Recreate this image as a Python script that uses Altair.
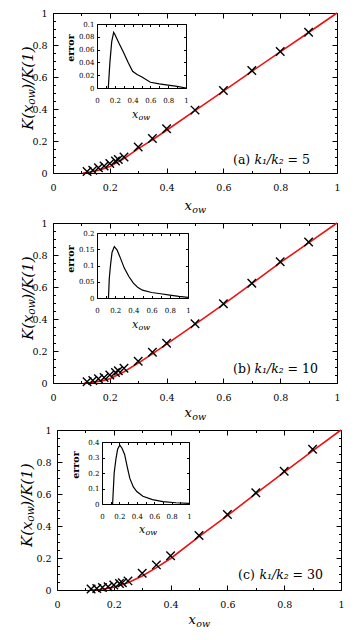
import altair as alt
import pandas as pd

FONT = "DejaVu Serif"

# ---------------- data ----------------
cross_x = [0.12, 0.14, 0.16, 0.18, 0.20, 0.22, 0.23, 0.25, 0.30, 0.35, 0.40, 0.50, 0.60, 0.70, 0.80, 0.90]
cross_a = [0.010, 0.017, 0.033, 0.044, 0.059, 0.075, 0.084, 0.100, 0.163, 0.215, 0.276, 0.393, 0.515, 0.640, 0.760, 0.879]
cross_b = [0.008, 0.015, 0.027, 0.035, 0.050, 0.065, 0.077, 0.092, 0.136, 0.192, 0.248, 0.370, 0.495, 0.624, 0.758, 0.881]
cross_c = [0.006, 0.010, 0.015, 0.021, 0.031, 0.040, 0.046, 0.057, 0.105, 0.157, 0.214, 0.340, 0.472, 0.608, 0.742, 0.880]

line_a_x = [0.105, 0.12, 0.135, 0.15, 0.175, 0.20, 0.25, 0.30, 0.35, 0.40, 0.50, 0.60, 0.70, 0.80, 0.90, 1.00]
line_a_y = [0.0, 0.003, 0.008, 0.013, 0.025, 0.040, 0.090, 0.152, 0.207, 0.267, 0.390, 0.512, 0.635, 0.757, 0.878, 1.000]
line_b_x = [0.11, 0.13, 0.15, 0.175, 0.20, 0.25, 0.30, 0.35, 0.40, 0.50, 0.60, 0.70, 0.80, 0.90, 1.00]
line_b_y = [0.0, 0.003, 0.007, 0.015, 0.027, 0.070, 0.124, 0.182, 0.243, 0.366, 0.492, 0.621, 0.752, 0.876, 1.000]
line_c_x = [0.12, 0.15, 0.175, 0.20, 0.25, 0.30, 0.35, 0.40, 0.50, 0.60, 0.70, 0.80, 0.90, 1.00]
line_c_y = [0.0, 0.003, 0.009, 0.018, 0.045, 0.088, 0.140, 0.197, 0.333, 0.465, 0.602, 0.737, 0.870, 1.000]

err_a_x = [0.127, 0.145, 0.165, 0.187, 0.20, 0.25, 0.30, 0.35, 0.40, 0.45, 0.50, 0.60, 0.70, 0.80, 0.90, 1.00]
err_a_y = [0.0, 0.040, 0.072, 0.087, 0.084, 0.069, 0.055, 0.040, 0.026, 0.021, 0.0175, 0.009, 0.0065, 0.0045, 0.0025, 0.0]
err_b_x = [0.126, 0.135, 0.148, 0.165, 0.19, 0.22, 0.25, 0.30, 0.35, 0.40, 0.45, 0.50, 0.60, 0.70, 0.80, 0.90, 1.00]
err_b_y = [0.0, 0.060, 0.100, 0.140, 0.158, 0.148, 0.128, 0.092, 0.066, 0.046, 0.032, 0.024, 0.017, 0.013, 0.009, 0.005, 0.002]
err_c_x = [0.122, 0.14, 0.16, 0.18, 0.205, 0.23, 0.26, 0.29, 0.32, 0.36, 0.40, 0.47, 0.58, 0.70, 0.85, 1.00]
err_c_y = [0.0, 0.20, 0.29, 0.355, 0.38, 0.36, 0.32, 0.24, 0.165, 0.11, 0.08, 0.05, 0.028, 0.015, 0.008, 0.004]

main_labels = [0, 0.2, 0.4, 0.6, 0.8, 1]
main_x_ticks = [0, 0.1, 0.2, 0.3, 0.4, 0.5, 0.6, 0.7, 0.8, 0.9, 1]
main_y_ticks = [0, 0.05, 0.1, 0.15, 0.2, 0.25, 0.3, 0.35, 0.4, 0.45, 0.5,
                0.55, 0.6, 0.65, 0.7, 0.75, 0.8, 0.85, 0.9, 0.95, 1]
inset_x_labels = [0, 0.2, 0.4, 0.6, 0.8, 1]
inset_x_ticks = [0, 0.1, 0.2, 0.3, 0.4, 0.5, 0.6, 0.7, 0.8, 0.9, 1]
inset_y_a = [0, 0.02, 0.04, 0.06, 0.08, 0.1]
inset_y_b = [0, 0.05, 0.1, 0.15, 0.2]
inset_y_c = [0, 0.1, 0.2, 0.3, 0.4]

# ---------------- geometry ----------------
H = 160
PW = 284
XPATH = "M-1,-1L1,1M-1,1L1,-1"
MAJOR_TEST = "abs(datum.value*5 - round(datum.value*5)) < 0.001"


def tick_axis(orient, offset, values, size):
    return alt.Axis(orient=orient, offset=offset, values=values, labels=False, title=None,
                    domain=True, domainColor="black", domainWidth=1, ticks=True,
                    tickColor="black", tickWidth=1, tickSize=size, grid=False,
                    minExtent=0)


def label_axis(orient, offset, values, fsize, pad):
    return alt.Axis(orient=orient, offset=offset, values=values, labels=True, ticks=False,
                    tickSize=0, domain=False, title=None, labelFont=FONT,
                    labelFontSize=fsize, labelPadding=pad, labelColor="black",
                    format="~g", grid=False, labelFlush=False, labelOverlap=False,
                    minExtent=0)


def txt(s, x, y, size, style="normal", weight="normal", angle=0, align="left"):
    return alt.Chart(pd.DataFrame({"t": [s]})).mark_text(
        text=s, font=FONT, fontSize=size, fontStyle=style, fontWeight=weight,
        angle=angle, align=align, baseline="middle", color="black"
    ).encode(x=alt.value(x), y=alt.value(y))


def panel(x0, lx, ly, cy, ex, ey, ymax, yvals, ins, tag, ratio, ann, ytc, xt, it_c, et):
    Wv = x0 + PW
    il, ir, itop, ib = ins
    sx = alt.Scale(domain=[0, 1], range=[x0, Wv], nice=False, zero=False)
    sy = alt.Scale(domain=[0, 1], range=[H, 0], nice=False, zero=False)
    isx = alt.Scale(domain=[0, 1], range=[il, ir], nice=False, zero=False)
    isy = alt.Scale(domain=[0, ymax], range=[ib, itop], nice=False, zero=False)

    big = {"condition": {"test": MAJOR_TEST, "value": 5}, "value": 2.5}

    line_df = pd.DataFrame({"x": lx, "y": ly})
    cross_df = pd.DataFrame({"x": cross_x, "y": cy})
    err_df = pd.DataFrame({"x": ex, "y": ey})

    l1 = alt.Chart(line_df).mark_line(color="#ee1111", strokeWidth=1.6).encode(
        x=alt.X("x:Q", scale=sx, axis=label_axis("bottom", 0, main_labels, 9.5, 9)),
        y=alt.Y("y:Q", scale=sy, axis=label_axis("left", -x0, main_labels, 9.5, 6)),
    )
    l2 = alt.Chart(cross_df).mark_point(shape=XPATH, size=72, filled=False, color="black",
                                        strokeWidth=1.4, opacity=1).encode(
        x=alt.X("x:Q", scale=sx, axis=tick_axis("top", -H, main_x_ticks, big)),
        y=alt.Y("y:Q", scale=sy, axis=tick_axis("right", -PW, main_y_ticks, big)),
    )
    l3 = alt.Chart(line_df).mark_line(opacity=0).encode(
        x=alt.X("x:Q", scale=sx, axis=tick_axis("bottom", -H, main_x_ticks, big)),
        y=alt.Y("y:Q", scale=sy, axis=tick_axis("left", -Wv, main_y_ticks, big)),
    )
    l4 = alt.Chart(err_df).mark_line(color="black", strokeWidth=1.2).encode(
        x=alt.X("x:Q", scale=isx, axis=label_axis("bottom", ib - H, inset_x_labels, 7, 8)),
        y=alt.Y("y:Q", scale=isy, axis=label_axis("left", -il, yvals, 7, 3)),
    )
    l5 = alt.Chart(err_df).mark_line(opacity=0).encode(
        x=alt.X("x:Q", scale=isx, axis=tick_axis("top", -ib, inset_x_ticks, 2.5)),
        y=alt.Y("y:Q", scale=isy, axis=tick_axis("right", il - Wv, yvals, 2.5)),
    )
    l6 = alt.Chart(err_df).mark_line(opacity=0).encode(
        x=alt.X("x:Q", scale=isx, axis=tick_axis("bottom", itop - H, inset_x_ticks, 2.5)),
        y=alt.Y("y:Q", scale=isy, axis=tick_axis("left", -ir, yvals, 2.5)),
    )

    texts = []
    # y title  K(x_ow)/K(1), rotated, reading upwards
    yx, yb = ytc
    w1 = (0.71 + 0.39 + 0.59) * 15
    w2 = (0.60 + 0.82) * 10.5
    texts.append(txt("K(x", yx, yb, 15, "italic", angle=270))
    texts.append(txt("ow", yx + 3.5, yb - w1, 10.5, "italic", angle=270))
    texts.append(txt(")/K(1)", yx, yb - w1 - w2, 15, "italic", angle=270))
    # main x title
    cx, cyy = xt
    texts.append(txt("x", cx - 10.5, cyy, 13, "italic"))
    texts.append(txt("ow", cx - 2.8, cyy + 3.5, 9.5, "italic"))
    # inset x title
    icx, icy = it_c
    texts.append(txt("x", icx - 9, icy, 11, "italic"))
    texts.append(txt("ow", icx - 2.5, icy + 3, 8, "italic"))
    # inset y title
    texts.append(txt("error", et[0], et[1], 9.5, weight="bold", angle=270, align="center"))
    # annotation
    ax, ay = ann
    texts.append(txt(tag, ax, ay, 12.5))
    texts.append(txt("k₁/k₂", ax + 21.5, ay, 12.5, "italic"))
    texts.append(txt("= " + ratio, ax + 54.5, ay, 12.5))

    return alt.layer(l1, l2, l3, l4, l5, l6, *texts).resolve_scale(
        x="independent", y="independent"
    ).properties(width=Wv, height=H)


pa = panel(0, line_a_x, line_a_y, cross_a, err_a_x, err_a_y, 0.1, inset_y_a,
           (44, 133, 11, 75), "(a)", "5", (180, 147), (-25, 117), (142, 193), (88, 102), (18, 35))
pb = panel(0, line_b_x, line_b_y, cross_b, err_b_x, err_b_y, 0.2, inset_y_b,
           (44, 135, 10, 75), "(b)", "10", (180, 146), (-25, 117), (142, 190), (88, 102), (18, 36))
pc = panel(4, line_c_x, line_c_y, cross_c, err_c_x, err_c_y, 0.4, inset_y_c,
           (49, 136, 12, 74), "(c)", "30", (185, 145), (-26, 117), (146, 190), (95, 100), (23, 35))

chart = alt.vconcat(pa, pb, pc, spacing=4).properties(
    padding={"left": 12, "top": 0, "right": 0, "bottom": 0}
).configure_view(stroke=None)

chart.save("out.html", embed_options={"renderer": "svg", "actions": False})
